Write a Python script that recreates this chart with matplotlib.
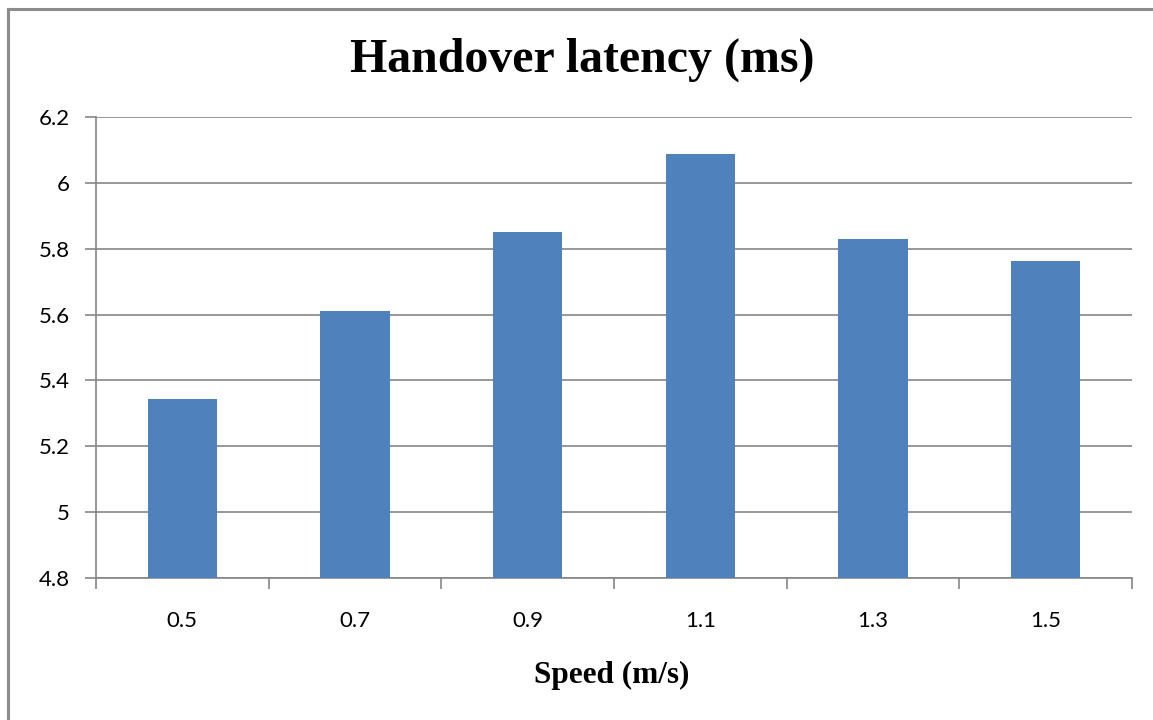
import matplotlib
matplotlib.use("Agg")
import matplotlib.pyplot as plt
from matplotlib.lines import Line2D

# data
speeds = ["0.5", "0.7", "0.9", "1.1", "1.3", "1.5"]
latency = [5.344, 5.611, 5.851, 6.088, 5.829, 5.763]
y_ticks = [4.8, 5.0, 5.2, 5.4, 5.6, 5.8, 6.0, 6.2]
y_labels = ["4.8", "5", "5.2", "5.4", "5.6", "5.8", "6", "6.2"]

grey = "#868686"

fig = plt.figure(figsize=(11.53, 7.2), dpi=100)
ax = fig.add_axes([96 / 1153, 1 - 578 / 720, (1132 - 96) / 1153, (578 - 117) / 720])

x = list(range(len(speeds)))
ax.bar(x, latency, width=0.4, color="#4F81BD", zorder=3)

ax.set_xlim(-0.5, len(speeds) - 0.5)
ax.set_ylim(4.8, 6.2)
ax.set_yticks(y_ticks)
ax.set_yticklabels(y_labels, family="Lato", fontsize=16)
ax.yaxis.grid(True, color=grey, linewidth=1.2, zorder=0)

# category labels centred, ticks on category boundaries
ax.set_xticks(x)
ax.set_xticklabels(speeds, family="Lato", fontsize=16)
ax.tick_params(axis="x", length=0, pad=24)
ax.set_xticks([i - 0.5 for i in range(len(speeds) + 1)], minor=True)
ax.tick_params(axis="x", which="minor", length=8, color=grey, width=1.2)
ax.tick_params(axis="y", length=8, color=grey, width=1.2, pad=11)

for s in ["top", "right"]:
    ax.spines[s].set_visible(False)
for s in ["left", "bottom"]:
    ax.spines[s].set_color(grey)
    ax.spines[s].set_linewidth(1.2)

fig.text(582 / 1153, 1 - 60 / 720, "Handover latency (ms)", family="Liberation Serif",
         fontweight="bold", fontsize=34.5, ha="center", va="center")
fig.text(612 / 1153, 1 - 675 / 720, "Speed (m/s)", family="Liberation Serif",
         fontweight="bold", fontsize=22.5, ha="center", va="center")

# outer chart frame (only left and top visible)
fig.add_artist(Line2D([7.5 / 1153, 7.5 / 1153], [0, 1 - 8.5 / 720], transform=fig.transFigure,
                      color="#8c8c8c", linewidth=2.2))
fig.add_artist(Line2D([7.5 / 1153, 1], [1 - 8.5 / 720, 1 - 8.5 / 720], transform=fig.transFigure,
                      color="#8c8c8c", linewidth=2.2))

fig.savefig("out.png", dpi=100, facecolor="white")
